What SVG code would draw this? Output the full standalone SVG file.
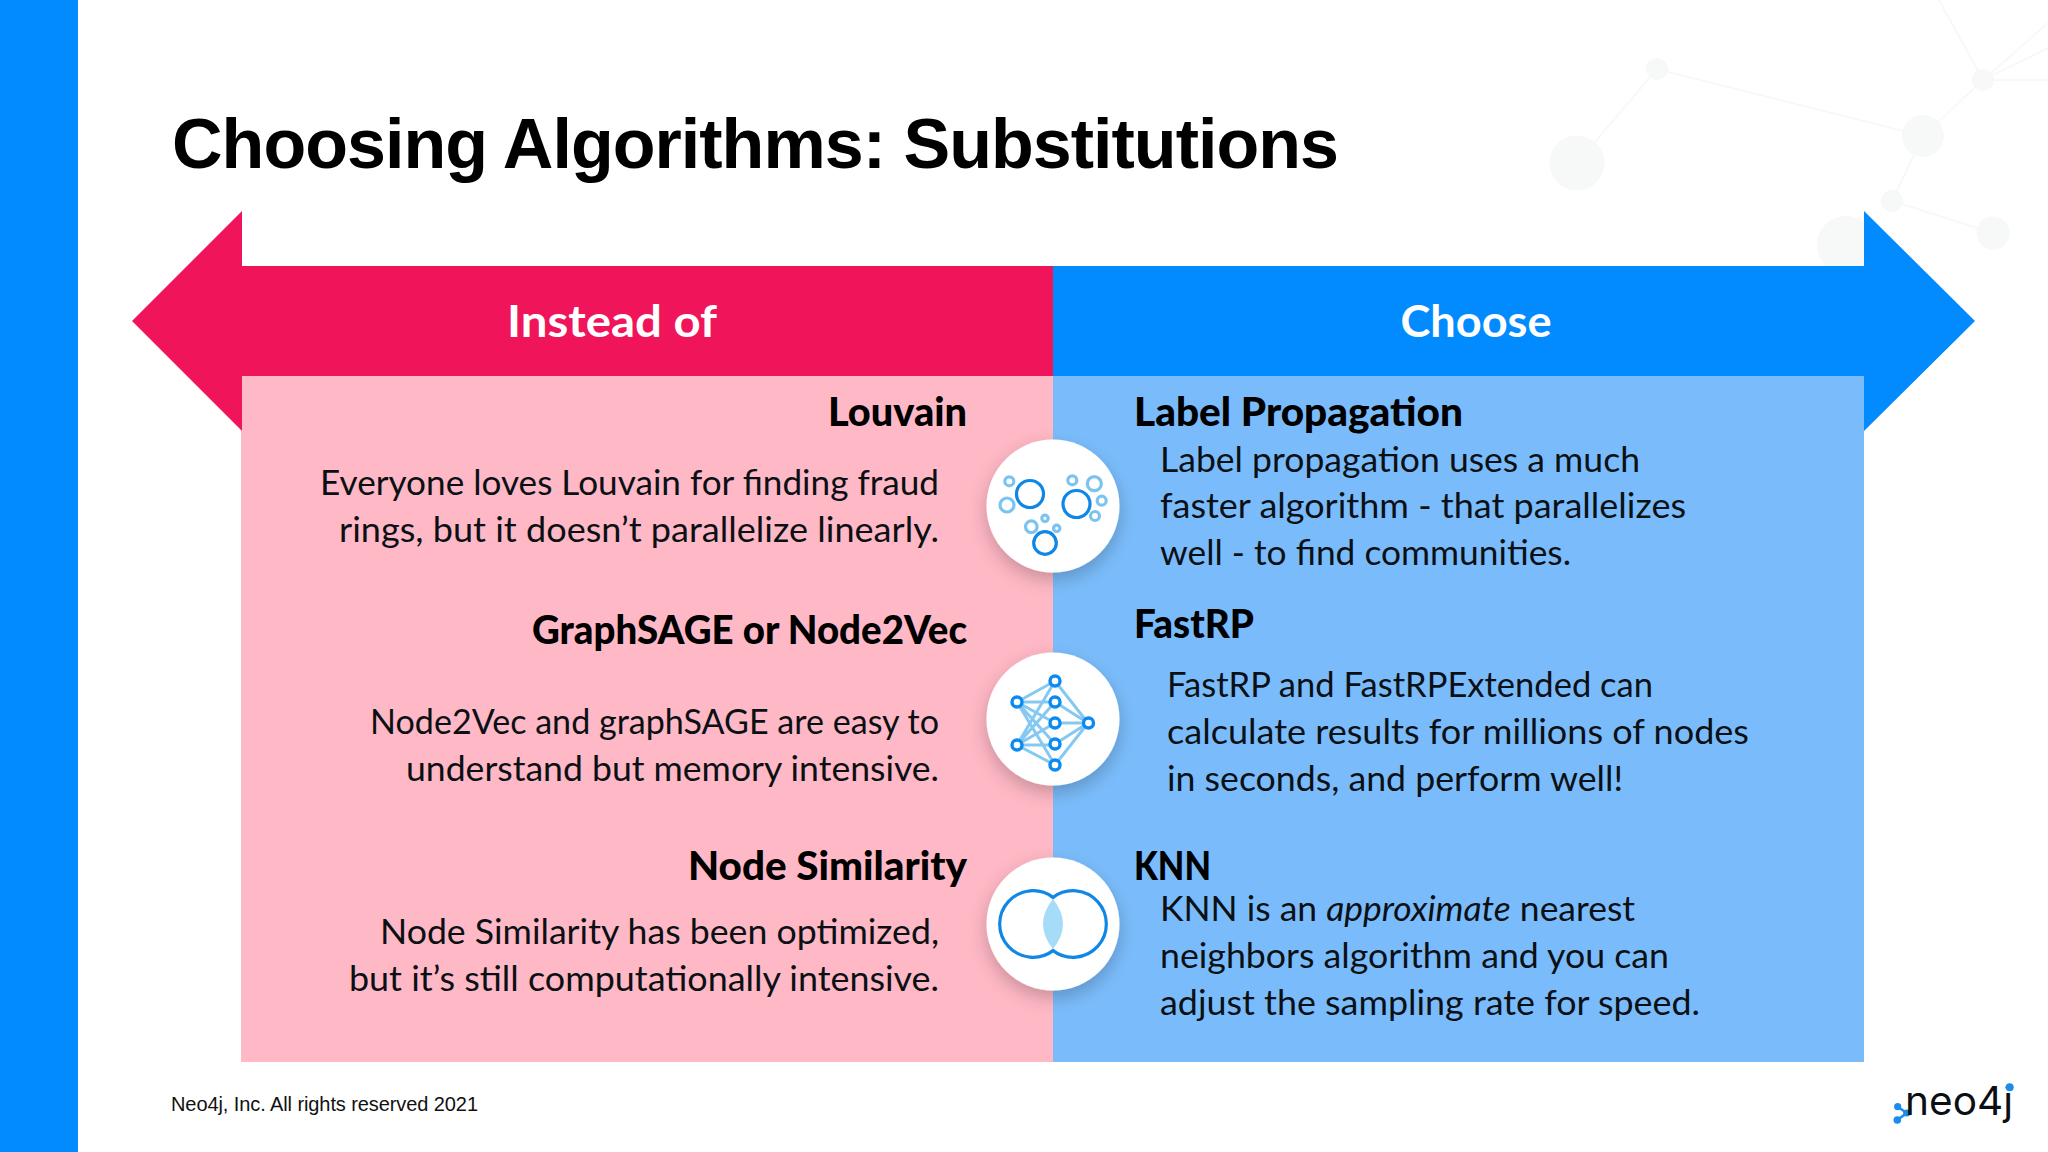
<svg xmlns="http://www.w3.org/2000/svg" width="2048" height="1152" viewBox="0 0 2048 1152">
<defs>
<style>
.bg{fill:#f7f8f8}.bgl{stroke:#f7f8f8;stroke-width:2;fill:none}
.b{font-family:Lato,"Noto Sans",sans-serif;font-size:35px;fill:#0b1015}
.h{font-family:Lato,"Noto Sans",sans-serif;font-size:40px;font-weight:900;fill:#000}
.band{font-family:Lato,"Noto Sans",sans-serif;font-size:44px;font-weight:700;fill:#fff;text-anchor:middle}
.e{text-anchor:end}
.dk{fill:none;stroke:#0f87e6;stroke-width:3.2}
.lt{fill:none;stroke:#7cc4f0;stroke-width:3.2}
.ln{stroke:#85c9f2;stroke-width:3;fill:none}
.nd{fill:#fff;stroke:#0d8af0;stroke-width:3.4}
</style>
<filter id="sh" x="-40%" y="-40%" width="180%" height="180%"><feDropShadow dx="0" dy="7" stdDeviation="9" flood-color="#000" flood-opacity="0.22"/></filter>
</defs>
<rect width="2048" height="1152" fill="#fff"/>
<g id="background-graph">
<path class="bgl" d="M1577 163L1657 69L1923 136L1983 80M1923 136L1892 201L1993 233M1983 80L1939 0M1983 80L2048 23M1983 80L2048 48M1983 80L2048 80"/>
<circle class="bg" cx="1577" cy="163" r="27.5"/><circle class="bg" cx="1657" cy="69" r="11"/><circle class="bg" cx="1923" cy="136" r="21"/><circle class="bg" cx="1983" cy="80" r="11"/><circle class="bg" cx="1892" cy="201" r="11"/><circle class="bg" cx="1993" cy="233" r="16.5"/><circle class="bg" cx="1846" cy="245" r="29"/>
</g>
<rect id="side-bar" x="0" y="0" width="78" height="1152" fill="#018bff"/>
<text id="title" x="172" y="168" font-family="Liberation Sans, Arial, sans-serif" font-weight="700" font-size="70" fill="#000" textLength="1167">Choosing Algorithms: Substitutions</text>
<g id="instead-of">
<rect x="241" y="376" width="812" height="686" fill="#ffb8c5"/>
<path d="M132 321L242 211V266H1053V376H242V431Z" fill="#f0145a"/>
<text class="band" x="612" y="337" textLength="210" lengthAdjust="spacingAndGlyphs">Instead of</text>
</g>
<g id="choose">
<rect x="1053" y="376" width="811" height="686" fill="#7abcfb"/>
<path d="M1975 321L1864 211V266H1053V376H1864V431Z" fill="#018bff"/>
<text class="band" x="1476" y="337" textLength="151" lengthAdjust="spacingAndGlyphs">Choose</text>
</g>
<g id="left-text">
<text class="h e" x="967" y="426" textLength="139" lengthAdjust="spacingAndGlyphs">Louvain</text>
<text class="b e" x="939" y="495" textLength="619" lengthAdjust="spacingAndGlyphs">Everyone loves Louvain for finding fraud</text>
<text class="b e" x="939" y="542" textLength="600" lengthAdjust="spacingAndGlyphs">rings, but it doesn’t parallelize linearly.</text>
<text class="h e" x="967" y="644" textLength="435" lengthAdjust="spacingAndGlyphs">GraphSAGE or Node2Vec</text>
<text class="b e" x="939" y="734" textLength="569" lengthAdjust="spacingAndGlyphs">Node2Vec and graphSAGE are easy to</text>
<text class="b e" x="939" y="781" textLength="533" lengthAdjust="spacingAndGlyphs">understand but memory intensive.</text>
<text class="h e" x="967" y="880" textLength="279" lengthAdjust="spacingAndGlyphs">Node Similarity</text>
<text class="b e" x="939" y="944" textLength="559" lengthAdjust="spacingAndGlyphs">Node Similarity has been optimized,</text>
<text class="b e" x="939" y="991" textLength="590" lengthAdjust="spacingAndGlyphs">but it’s still computationally intensive.</text>
</g>
<g id="right-text">
<text class="h" x="1134" y="426" textLength="329" lengthAdjust="spacingAndGlyphs">Label Propagation</text>
<text class="b" x="1160" y="472" textLength="480" lengthAdjust="spacingAndGlyphs">Label propagation uses a much</text>
<text class="b" x="1160" y="518" textLength="526" lengthAdjust="spacingAndGlyphs">faster algorithm - that parallelizes</text>
<text class="b" x="1160" y="565" textLength="411" lengthAdjust="spacingAndGlyphs">well - to find communities.</text>
<text class="h" x="1134" y="638" textLength="120" lengthAdjust="spacingAndGlyphs">FastRP</text>
<text class="b" x="1167" y="697" textLength="486" lengthAdjust="spacingAndGlyphs">FastRP and FastRPExtended can</text>
<text class="b" x="1167" y="744" textLength="582" lengthAdjust="spacingAndGlyphs">calculate results for millions of nodes</text>
<text class="b" x="1167" y="791" textLength="456" lengthAdjust="spacingAndGlyphs">in seconds, and perform well!</text>
<text class="h" x="1134" y="880" textLength="77" lengthAdjust="spacingAndGlyphs">KNN</text>
<text class="b" x="1160" y="921" textLength="475" lengthAdjust="spacingAndGlyphs">KNN is an <tspan font-style="italic">approximate</tspan> nearest</text>
<text class="b" x="1160" y="968" textLength="509" lengthAdjust="spacingAndGlyphs">neighbors algorithm and you can</text>
<text class="b" x="1160" y="1015" textLength="540" lengthAdjust="spacingAndGlyphs">adjust the sampling rate for speed.</text>
</g>
<g id="icon-communities">
<circle cx="1053" cy="506" r="66.5" fill="#fff" filter="url(#sh)"/>
<circle class="dk" cx="1030" cy="494" r="13.5"/><circle class="dk" cx="1076.5" cy="504" r="13.5"/><circle class="dk" cx="1045" cy="543" r="11.3"/>
<circle class="lt" cx="1009.3" cy="481.3" r="4.5"/><circle class="lt" cx="1007" cy="505" r="7"/><circle class="lt" cx="1031.3" cy="526.7" r="5.8"/><circle class="lt" cx="1045" cy="518.3" r="3.2"/><circle class="lt" cx="1056.7" cy="528.3" r="3.2"/><circle class="lt" cx="1072.3" cy="480.3" r="4.5"/><circle class="lt" cx="1094.3" cy="483.7" r="7"/><circle class="lt" cx="1101.7" cy="500.7" r="4.5"/><circle class="lt" cx="1095" cy="516" r="4.5"/>
</g>
<g id="icon-network">
<circle cx="1053" cy="719" r="66.5" fill="#fff" filter="url(#sh)"/>
<path class="ln" d="M1017 702L1055 681M1017 702H1055M1017 702L1055 723M1017 702L1055 744M1017 702L1055 765M1017 745L1055 681M1017 745L1055 702M1017 745L1055 723M1017 745H1055M1017 745L1055 765M1055 681L1088 723M1055 702L1088 723M1055 723H1088M1055 744L1088 723M1055 765L1088 723"/>
<circle class="nd" cx="1017" cy="702" r="5"/><circle class="nd" cx="1017" cy="745" r="5"/><circle class="nd" cx="1055" cy="681" r="5"/><circle class="nd" cx="1055" cy="702" r="5"/><circle class="nd" cx="1055" cy="723" r="5"/><circle class="nd" cx="1055" cy="744" r="5"/><circle class="nd" cx="1055" cy="765" r="5"/><circle class="nd" cx="1088.5" cy="723" r="5"/>
</g>
<g id="icon-overlap">
<circle cx="1053" cy="924" r="66.5" fill="#fff" filter="url(#sh)"/>
<path d="M1053 899Q1073 924 1053 949Q1033 924 1053 899Z" fill="#a6dcf8"/>
<path class="dk" d="M1053 897.4A33.3 33.3 0 1 0 1053 950.6A33.3 33.3 0 1 0 1053 897.4Z"/>
</g>
<text id="footer" x="171" y="1111" font-family="Liberation Sans, Arial, sans-serif" font-size="20" fill="#111" textLength="307">Neo4j, Inc. All rights reserved 2021</text>
<g id="logo">
<path d="M1897.7 1106.7L1906.7 1113L1897.3 1120" fill="none" stroke="#1a8cf0" stroke-width="2.5"/>
<circle cx="1897.7" cy="1106.7" r="3.6" fill="#1a8cf0"/><circle cx="1906.7" cy="1113" r="3.6" fill="#1a8cf0"/><circle cx="1897.3" cy="1120" r="3.8" fill="#1a8cf0"/>
<text x="1905" y="1115" font-family="Inter, sans-serif" font-size="39" font-weight="400" fill="#0b0f14" textLength="108" lengthAdjust="spacingAndGlyphs">neo4j</text>
<circle cx="2009.7" cy="1087.3" r="4" fill="#1a8cf0"/>
</g>
</svg>
